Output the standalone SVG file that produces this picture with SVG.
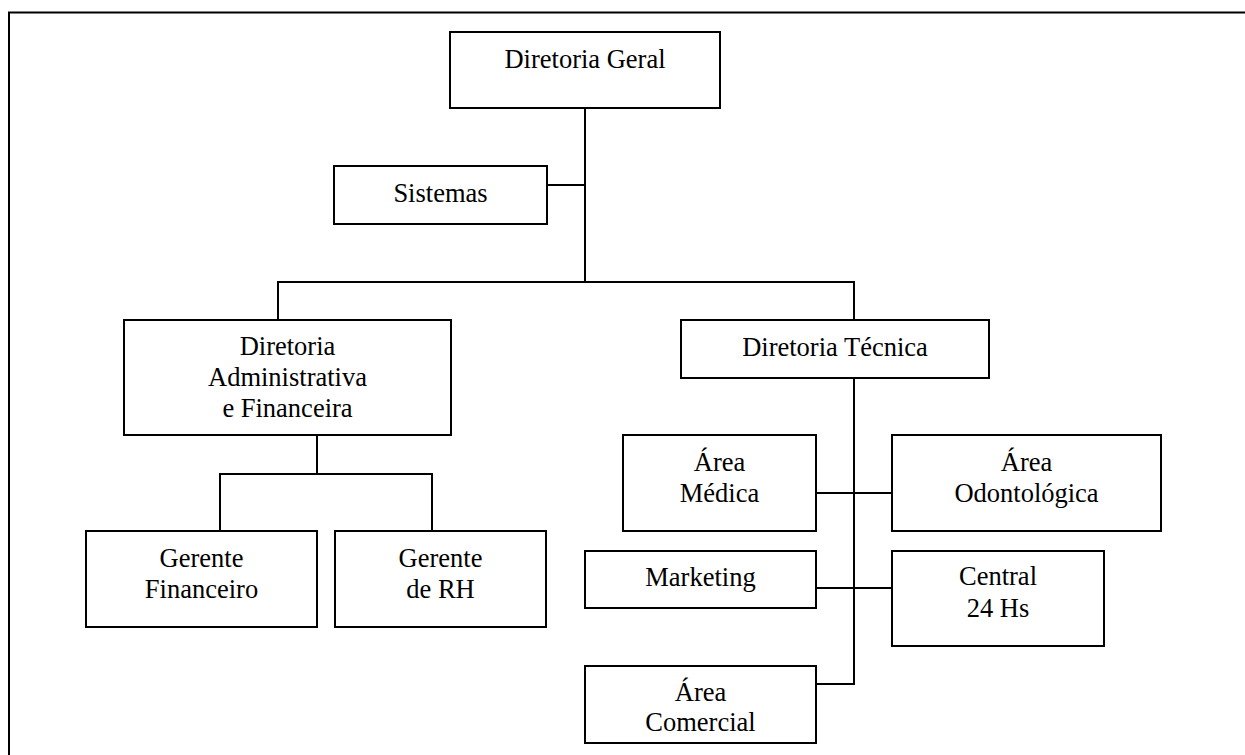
<svg xmlns="http://www.w3.org/2000/svg" width="1245" height="755" viewBox="0 0 1245 755" font-family="'Liberation Serif', 'Times New Roman', Times, serif">
  <style>
    .box { fill: #ffffff; stroke: #000000; stroke-width: 2; }
    .wire { fill: none; stroke: #000000; stroke-width: 2; }
    text { font-family: 'Liberation Serif', 'Times New Roman', Times, serif; font-size: 26.5px; fill: #000000; text-anchor: middle; }
  </style>
  <rect width="1245" height="755" fill="#ffffff"/>
  <!-- page frame (top and left edges) -->
  <path class="wire" d="M9,755 V12.5 H1245"/>

  <g id="connectors">
    <path class="wire" d="M585,108 V282"/>
    <path class="wire" d="M547,185 H585"/>
    <path class="wire" d="M278,320 V282 H854 V320"/>
    <path class="wire" d="M317,435 V474"/>
    <path class="wire" d="M220,531 V474 H432 V531"/>
    <path class="wire" d="M854,378 V684 H816"/>
    <path class="wire" d="M816,493 H892"/>
    <path class="wire" d="M816,588 H892"/>
  </g>

  <g id="diretoria-geral">
    <rect class="box" x="450" y="32" width="270" height="76"/>
    <text x="585" y="68">Diretoria Geral</text>
  </g>
  <g id="sistemas">
    <rect class="box" x="334" y="166" width="213" height="58"/>
    <text x="440.5" y="202">Sistemas</text>
  </g>
  <g id="diretoria-adm-fin">
    <rect class="box" x="124" y="320" width="327" height="115"/>
    <text x="287.5" y="355">Diretoria</text>
    <text x="287.5" y="386">Administrativa</text>
    <text x="287.5" y="417">e Financeira</text>
  </g>
  <g id="diretoria-tecnica">
    <rect class="box" x="681" y="320" width="308" height="58"/>
    <text x="835" y="356">Diretoria Técnica</text>
  </g>
  <g id="gerente-financeiro">
    <rect class="box" x="86" y="531" width="231" height="96"/>
    <text x="201.5" y="567">Gerente</text>
    <text x="201.5" y="598">Financeiro</text>
  </g>
  <g id="gerente-rh">
    <rect class="box" x="335" y="531" width="211" height="96"/>
    <text x="440.5" y="567">Gerente</text>
    <text x="440.5" y="598">de RH</text>
  </g>
  <g id="area-medica">
    <rect class="box" x="623" y="435" width="193" height="96"/>
    <text x="719.5" y="471">Área</text>
    <text x="719.5" y="502">Médica</text>
  </g>
  <g id="area-odontologica">
    <rect class="box" x="892" y="435" width="269" height="96"/>
    <text x="1026.5" y="471">Área</text>
    <text x="1026.5" y="502">Odontológica</text>
  </g>
  <g id="marketing">
    <rect class="box" x="585" y="551" width="231" height="57"/>
    <text x="700.5" y="586">Marketing</text>
  </g>
  <g id="central-24hs">
    <rect class="box" x="892" y="551" width="212" height="95"/>
    <text x="998" y="585">Central</text>
    <text x="998" y="617">24 Hs</text>
  </g>
  <g id="area-comercial">
    <rect class="box" x="585" y="666" width="231" height="77"/>
    <text x="700.5" y="701">Área</text>
    <text x="700.5" y="731">Comercial</text>
  </g>
</svg>
